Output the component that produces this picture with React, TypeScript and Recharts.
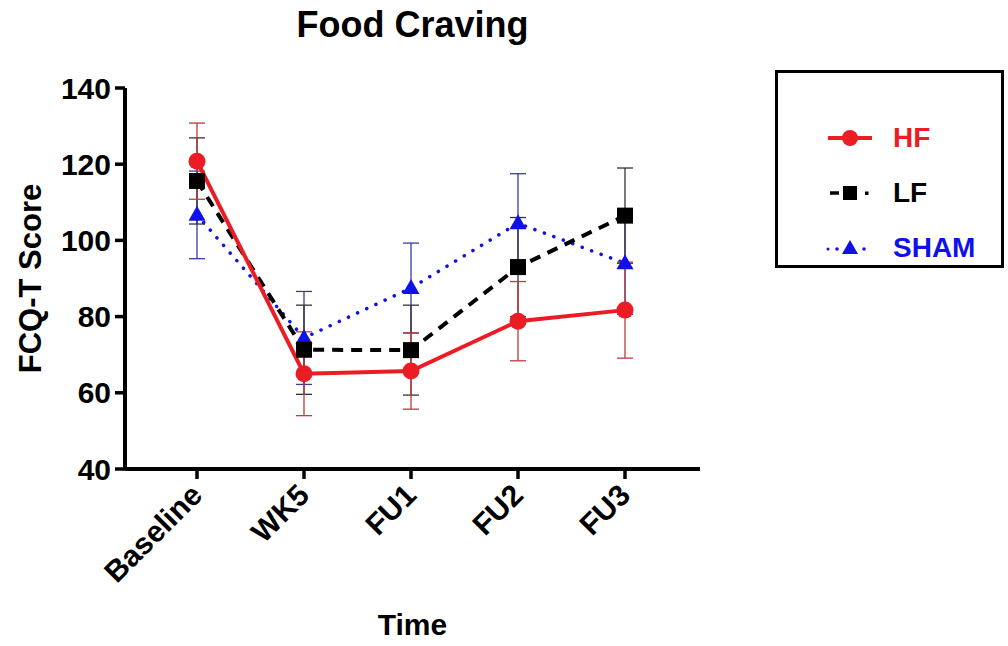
import React from 'react'
import { LineChart, Line, XAxis, YAxis, ErrorBar } from 'recharts'

const timepoints = ['Baseline', 'WK5', 'FU1', 'FU2', 'FU3']
const hfMean = [120.8, 65.0, 65.7, 78.8, 81.7]
const hfSem = [10.0, 11.0, 10.0, 10.4, 12.6]
const lfMean = [115.6, 71.3, 71.2, 93.0, 106.5]
const lfSem = [11.3, 11.7, 11.8, 13.0, 12.5]
const shamMean = [106.7, 74.4, 87.5, 104.5, 94.0]
const shamSem = [11.5, 12.2, 11.8, 13.0, 13.4]
const yTicks = [40, 60, 80, 100, 120, 140]

const RED = '#ec1c24'
const BLUE = '#1010e8'
const FONT = '"Liberation Sans", Arial, sans-serif'

const data = timepoints.map((t, i) => ({
  time: t,
  hf: hfMean[i], hfErr: hfSem[i],
  lf: lfMean[i], lfErr: lfSem[i],
  sham: shamMean[i], shamErr: shamSem[i],
}))

const CircleDot = (p: any) => <circle key={p.index} cx={p.cx} cy={p.cy} r={8.5} fill={RED} />
const SquareDot = (p: any) => <rect key={p.index} x={p.cx - 8} y={p.cy - 8} width={16} height={16} fill="#000" />
const TriDot = (p: any) => (
  <polygon key={p.index} points={`${p.cx},${p.cy - 9} ${p.cx - 8.5},${p.cy + 6} ${p.cx + 8.5},${p.cy + 6}`} fill={BLUE} />
)

const TimeTick = (p: any) => (
  <g transform={`translate(${p.x + 7},${p.y + 18})`}>
    <text transform="rotate(-45)" textAnchor="end" fontFamily={FONT} fontWeight="bold" fontSize={30} fill="#000">
      {p.payload.value}
    </text>
  </g>
)

const legendRows = [
  { name: 'HF', color: RED },
  { name: 'LF', color: '#000' },
  { name: 'SHAM', color: BLUE },
]

function LegendSample({ idx }: { idx: number }) {
  if (idx === 0) {
    return (
      <svg width={56} height={24}>
        <line x1={4} y1={12} x2={48} y2={12} stroke={RED} strokeWidth={4} />
        <circle cx={26} cy={12} r={8} fill={RED} />
      </svg>
    )
  }
  if (idx === 1) {
    return (
      <svg width={56} height={24}>
        <line x1={6} y1={12} x2={15} y2={12} stroke="#000" strokeWidth={3.5} />
        <rect x={19} y={5} width={14} height={14} fill="#000" />
        <rect x={41} y={10.5} width={3.5} height={3.5} fill="#000" />
      </svg>
    )
  }
  return (
    <svg width={56} height={24}>
      <circle cx={4} cy={13} r={1.5} fill={BLUE} />
      <circle cx={13} cy={13} r={1.8} fill={BLUE} />
      <polygon points="26,4 18,18 34,18" fill={BLUE} />
      <circle cx={40} cy={13} r={1.8} fill={BLUE} />
    </svg>
  )
}

export default function App() {
  return (
    <div style={{ position: 'absolute', left: 0, top: 0, width: 1008, height: 646, background: '#fff', fontFamily: FONT }}>
      <div style={{ position: 'absolute', left: 0, width: 825, top: 4, textAlign: 'center', fontSize: 36, fontWeight: 'bold', color: '#000' }}>
        Food Craving
      </div>
      <LineChart width={1008} height={646} data={data} margin={{ top: 88, right: 308, bottom: 0, left: 0 }}>
        <XAxis
          dataKey="time"
          interval={0}
          padding={{ left: 72, right: 75 }}
          height={177}
          tickSize={10}
          tickMargin={0}
          axisLine={{ stroke: '#000', strokeWidth: 4 }}
          tickLine={{ stroke: '#000', strokeWidth: 3.5 }}
          tick={<TimeTick />}
          label={(p: any) => {
            const vb = p.viewBox
            return (
              <text x={vb.x + vb.width / 2} y={vb.y + 166} textAnchor="middle" fontFamily={FONT} fontWeight="bold" fontSize={30} fill="#000">
                Time
              </text>
            )
          }}
        />
        <YAxis
          width={125}
          domain={[40, 140]}
          ticks={yTicks}
          interval={0}
          tickSize={10}
          tickMargin={4}
          axisLine={{ stroke: '#000', strokeWidth: 4 }}
          tickLine={{ stroke: '#000', strokeWidth: 3.5 }}
          tick={{ fontFamily: FONT, fontWeight: 'bold', fontSize: 30, fill: '#000' }}
          label={(p: any) => {
            const vb = p.viewBox
            const cx = 30
            const cy = vb.y + vb.height / 2
            return (
              <text x={cx} y={cy} transform={`rotate(-90 ${cx} ${cy})`} textAnchor="middle" dominantBaseline="central" fontFamily={FONT} fontWeight="bold" fontSize={31} fill="#000">
                FCQ-T Score
              </text>
            )
          }}
        />
        <Line
          dataKey="sham"
          stroke={BLUE}
          strokeWidth={3.5}
          strokeDasharray="0.1 10"
          strokeLinecap="round"
          dot={TriDot}
          activeDot={false}
          isAnimationActive={false}
        >
          <ErrorBar dataKey="shamErr" width={8} stroke="#3a3aa8" strokeWidth={1.3} />
        </Line>
        <Line
          dataKey="lf"
          stroke="#000"
          strokeWidth={4}
          strokeDasharray="11 8"
          dot={SquareDot}
          activeDot={false}
          isAnimationActive={false}
        >
          <ErrorBar dataKey="lfErr" width={8} stroke="#333" strokeWidth={1.3} />
        </Line>
        <Line
          dataKey="hf"
          stroke={RED}
          strokeWidth={4}
          dot={CircleDot}
          activeDot={false}
          isAnimationActive={false}
        >
          <ErrorBar dataKey="hfErr" width={8} stroke="#c03a3a" strokeWidth={1.3} />
        </Line>
      </LineChart>
      <div style={{ position: 'absolute', left: 775, top: 70, width: 229, height: 198, border: '3px solid #000', boxSizing: 'border-box' }}>
        {legendRows.map((r, i) => (
          <div key={r.name} style={{ position: 'absolute', left: 46, top: 50 + i * 55, height: 30, display: 'flex', alignItems: 'center' }}>
            <LegendSample idx={i} />
            <span style={{ marginLeft: 13, fontSize: 28, fontWeight: 'bold', color: r.color }}>{r.name}</span>
          </div>
        ))}
      </div>
    </div>
  )
}
